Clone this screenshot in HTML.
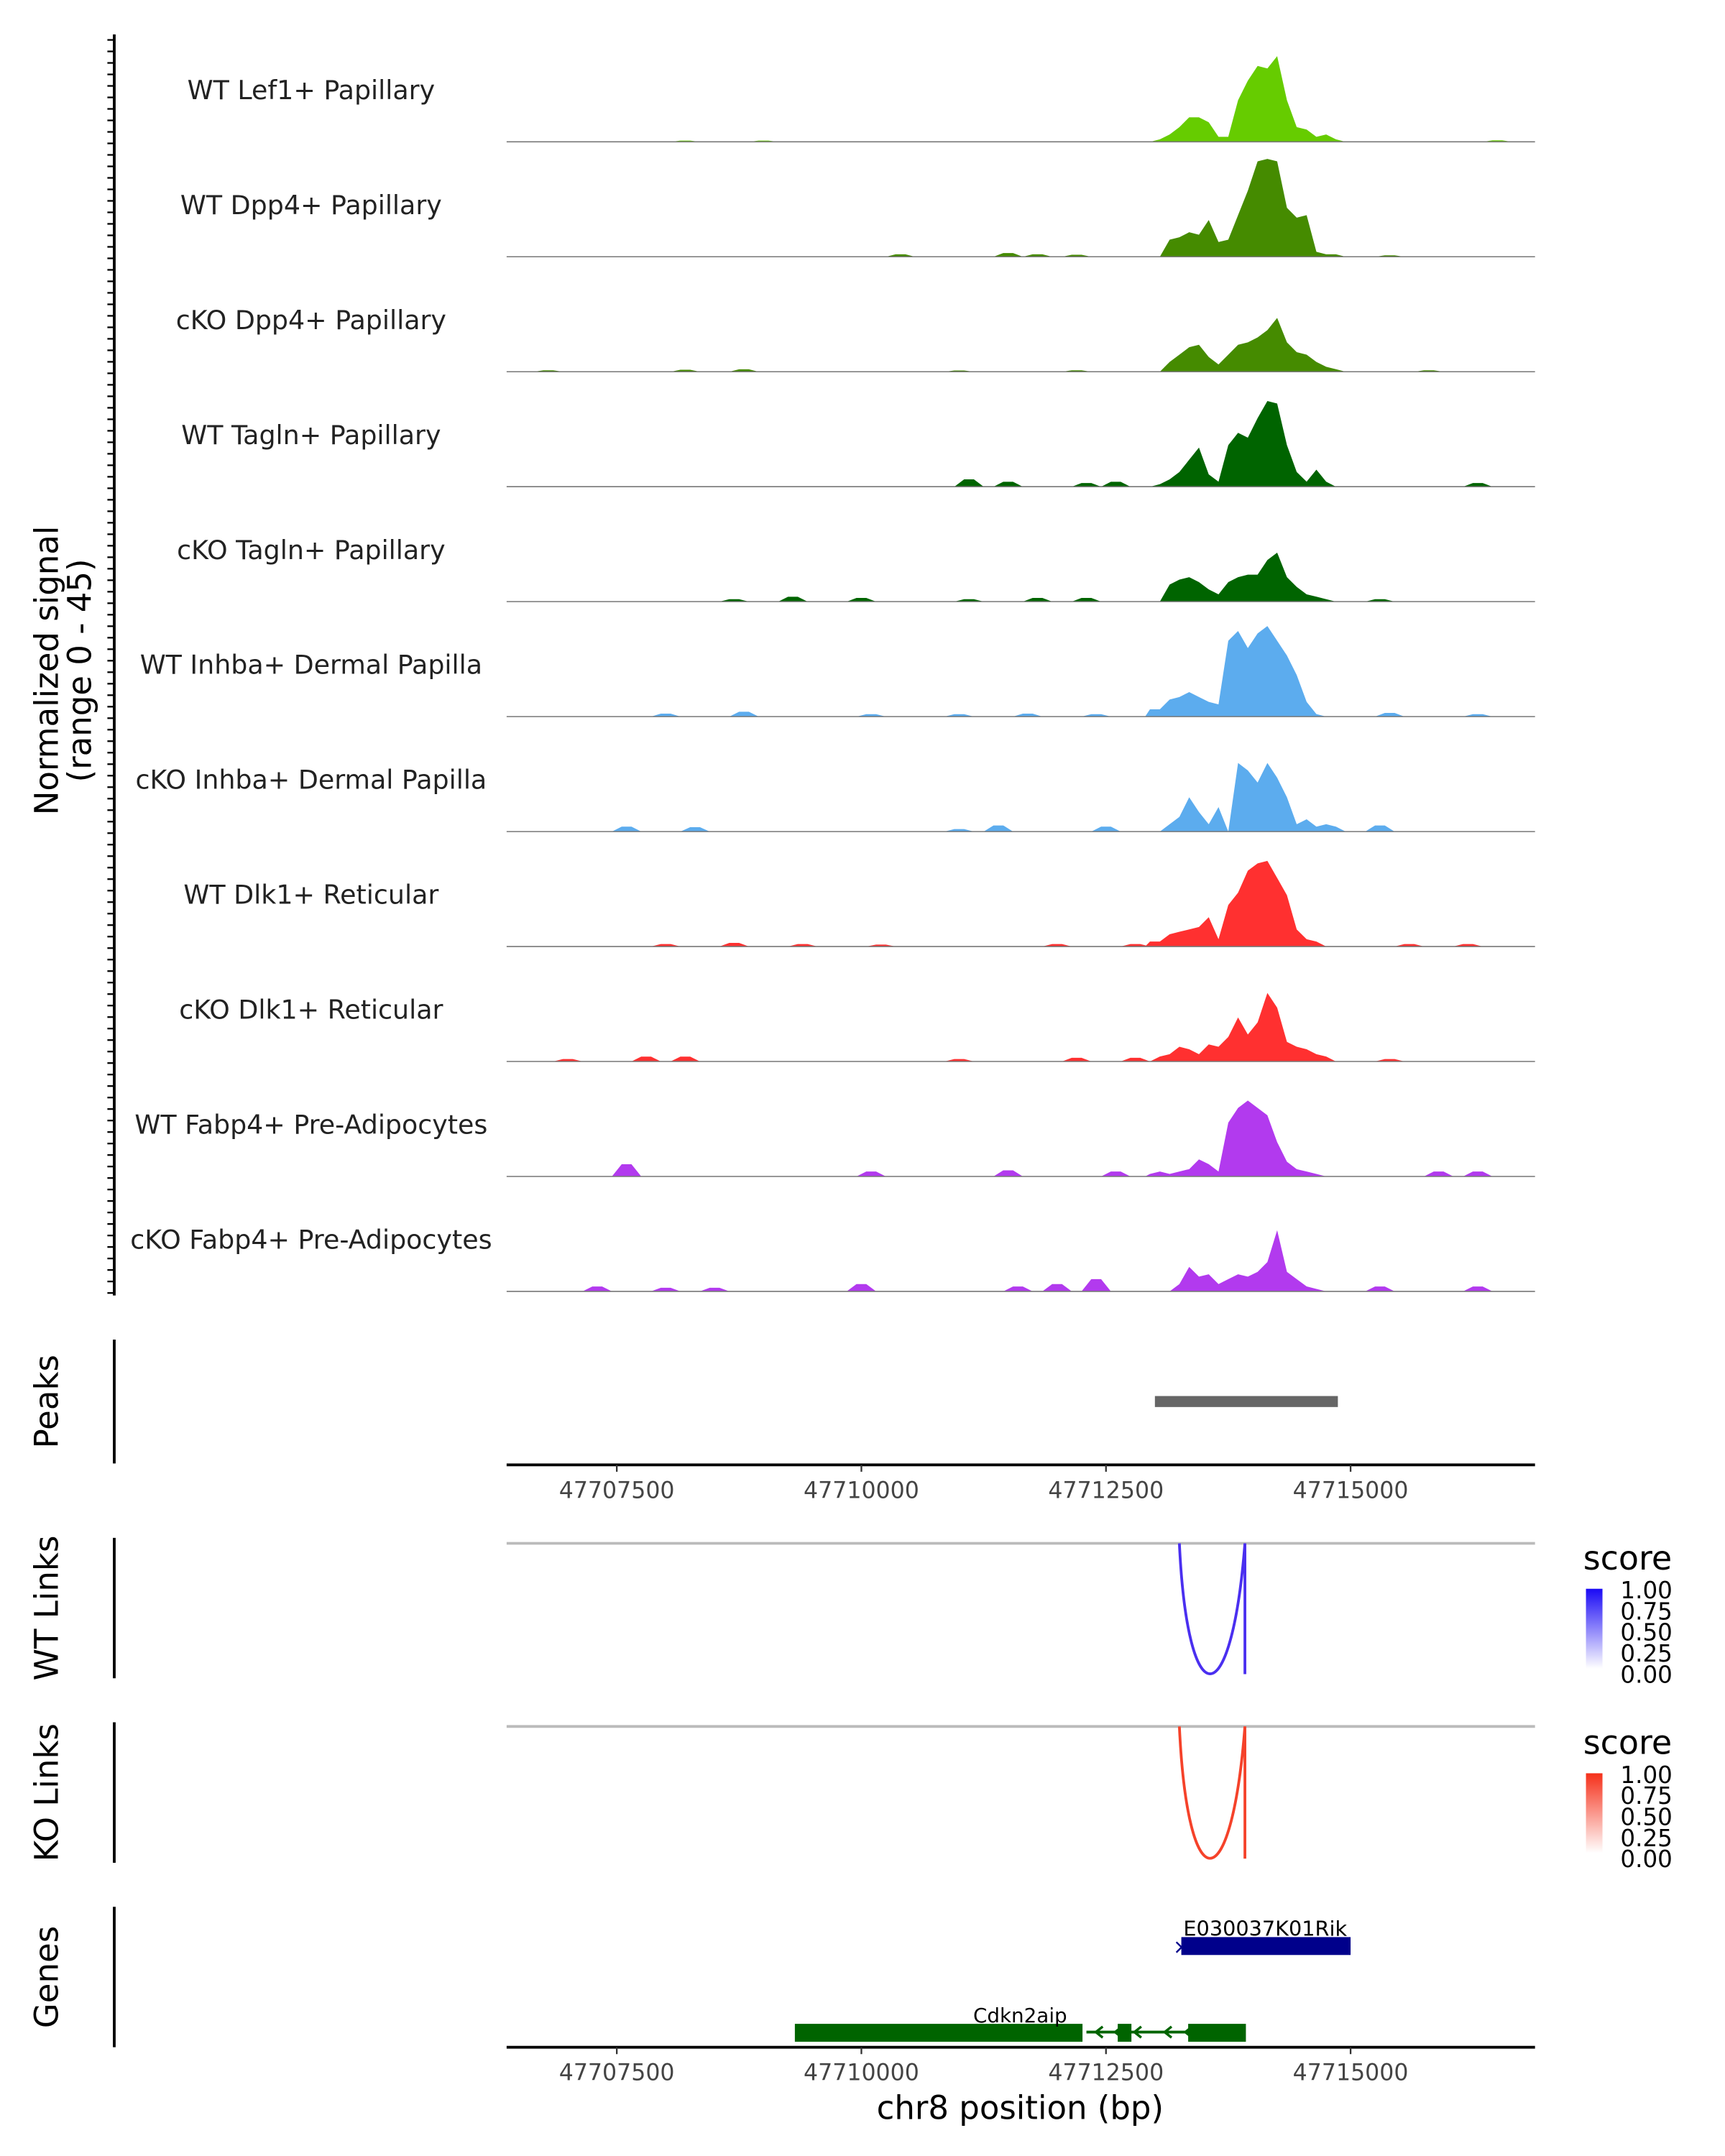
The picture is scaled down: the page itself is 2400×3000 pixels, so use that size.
<!DOCTYPE html>
<html><head><meta charset="utf-8"><style>
html,body{margin:0;padding:0;background:#fff;}
svg{display:block;font-family:"DejaVu Sans","Liberation Sans",sans-serif;}
</style></head><body>
<svg id="chart" width="2400" height="3000" viewBox="0 0 1253 1566" preserveAspectRatio="none" xmlns="http://www.w3.org/2000/svg">
<g id="tracks"></g>
<g id="static"></g>
</svg>
<script>
// ---- data ----
const trackNames = ["WT Lef1+ Papillary","WT Dpp4+ Papillary","cKO Dpp4+ Papillary","WT Tagln+ Papillary","cKO Tagln+ Papillary","WT Inhba+ Dermal Papilla","cKO Inhba+ Dermal Papilla","WT Dlk1+ Reticular","cKO Dlk1+ Reticular","WT Fabp4+ Pre-Adipocytes","cKO Fabp4+ Pre-Adipocytes"];
const trackColors = ["#66cc00","#458b00","#458b00","#006400","#006400","#5cacee","#5cacee","#ff3030","#ff3030","#b23aee","#b23aee"];
const binStart = 47712900, binSize = 100;
const sigLef1 = [0,1,3,6,10,10,8,2,2,17,25,31,30,35,17,6,5,2,3,1,0,0];
const sigWtDpp4 = [0,0,7,8,10,9,15,6,7,17,27,39,40,39,20,16,17,2,1,1,0,0];
const sigKoDpp4 = [0,0,4,7,10,11,6,3,7,11,12,14,17,22,12,8,7,4,2,1,0,0];
const sigWtTagln = [0,1,3,6,11,16,5,2,17,22,20,28,35,34,17,6,2,7,2,0,0,0];
const sigKoTagln = [0,0,7,9,10,8,5,3,8,10,11,11,17,20,10,6,3,2,1,0,0,0];
const sigWtInhba = [3,3,7,8,10,8,6,5,31,35,28,34,37,31,25,17,6,1,0,0,0,0];
const sigKoInhba = [0,0,3,6,14,8,3,10,0,28,25,20,28,22,14,3,5,2,3,2,0,0];
const sigWtDlk1 = [2,2,5,6,7,8,12,3,17,22,31,34,35,28,21,7,3,2,0,0,0,0];
const sigKoDlk1 = [0,2,3,6,5,3,7,6,10,18,11,16,28,22,8,6,5,3,2,0,0,0];
const sigWtFabp4 = [1,2,1,2,3,7,5,2,22,28,31,28,25,14,6,3,2,1,0,0,0,0];
const sigKoFabp4 = [0,0,0,3,10,6,7,3,5,7,6,8,12,25,8,5,2,1,0,0,0,0];
const signals = [sigLef1,sigWtDpp4,sigKoDpp4,sigWtTagln,sigKoTagln,sigWtInhba,sigKoInhba,sigWtDlk1,sigKoDlk1,sigWtFabp4,sigKoFabp4];
const blipsPos = [
 [47708200,47709000,47716500],
 [47710400,47711500,47711800,47712200,47715400],
 [47706800,47708200,47708800,47711000,47712200,47715800],
 [47711100,47711500,47712300,47712600,47716300],
 [47708700,47709300,47710000,47711100,47711800,47712300,47715300],
 [47708000,47708800,47710100,47711000,47711700,47712400,47715400,47716300],
 [47707600,47708300,47711000,47711400,47712500,47715300],
 [47708000,47708700,47709400,47710200,47712000,47712800,47715600,47716200],
 [47707000,47707800,47708200,47711000,47712200,47712800,47715400],
 [47707600,47710100,47711500,47712600,47715900,47716300],
 [47707300,47708000,47708500,47710000,47711600,47712000,47712400,47715300,47716300]];
const blipsVal = [
 [0.5,0.5,0.6],[1,1.5,1,0.8,0.6],[0.6,0.8,1,0.5,0.6,0.6],[3,2,1.5,2,1.5],[1,2,1.5,1,1.5,1.5,1],
 [1.2,2,1,1,1.2,1,1.5,1],[2,1.8,1,2.5,2,2.5],[1,1.5,1,0.8,1,1,1,1],[1,2,2,1,1.5,1.5,1],
 [5,2,2.5,2,2,2],[2,1.5,1.5,3,2,3,5,2,2]];
const yMax = 45;
const peakStarts = [47713000], peakEnds = [47714870];
const linkStart = [47713250], linkEnd = [47713920], wtScore = [0.8], koScore = [0.85];
const axisTicks = [47707500,47710000,47712500,47715000];
const legendTicks = ["1.00","0.75","0.50","0.25","0.00"];

// ---- scales ----
const X0 = 368, X1 = 1115, BP0 = 47706374, BP1 = 47716885;
const xs = bp => X0 + (bp - BP0) / (BP1 - BP0) * (X1 - X0);
const trackH = 80, base0 = 103, trackStep = 83.5;
const NS = "http://www.w3.org/2000/svg";
function mk(tag, attrs, parent, txt){const e=document.createElementNS(NS,tag);for(const k in attrs)e.setAttribute(k,attrs[k]);if(txt!==undefined)e.textContent=txt;parent.appendChild(e);return e;}

const tg = document.getElementById('tracks');
signals.forEach((sig, i) => {
  const base = base0 + i*trackStep;
  const ys = v => base - v / yMax * trackH;
  let d = `M${X0},${base}`;
  d += ` L${xs(binStart)},${base}`;
  sig.forEach((v,j)=>{ d += ` L${xs(binStart + j*binSize + binSize/2).toFixed(1)},${ys(v).toFixed(1)}`; });
  d += ` L${xs(binStart + sig.length*binSize)},${base} L${X1},${base} Z`;
  const area = mk('path',{d:d,fill:trackColors[i]},tg);
  
  
  blipsPos[i].forEach((p,k)=>{
    const v = blipsVal[i][k];
    const b = mk('path',{d:`M${xs(p-150)},${base} L${xs(p-50)},${ys(v)} L${xs(p+50)},${ys(v)} L${xs(p+150)},${base} Z`,fill:trackColors[i]},tg);
    
    
  });
  const bl = mk('line',{x1:X0,x2:X1,y1:base,y2:base,stroke:'#777','stroke-width':0.8},tg);
  
  
  const lab = mk('text',{x:226,y:base-31,'text-anchor':'middle','font-size':19,fill:'#222'},tg,trackNames[i]);
  
  
});

const sg = document.getElementById('static');
let ax = mk('line',{x1:83,x2:83,y1:25,y2:941,stroke:'#000','stroke-width':2},sg);
 
for(let y=29; y<=940; y+=8.35){ const t=mk('line',{x1:78,x2:83,y1:y,y2:y,stroke:'#000','stroke-width':1.2},sg);   }
function vlabel(txt, x, y, name, size){ const t=mk('text',{x:x,y:y,'text-anchor':'middle','font-size':size||23.5,transform:`rotate(-90 ${x} ${y})`},sg,txt);   }
vlabel('Normalized signal',42,487,'y-axis-title');
vlabel('(range 0 - 45)',66,487,'y-axis-range');
[[973,1063,'Peaks',1018],[1117,1219,'WT Links',1168],[1251,1353,'KO Links',1302],[1385,1487,'Genes',1436]].forEach(r=>{
  const l=mk('line',{x1:83,x2:83,y1:r[0],y2:r[1],stroke:'#000','stroke-width':2},sg);
   
  vlabel(r[2],42,r[3],'track-title');
});
peakStarts.forEach((s,i)=>{ const r=mk('rect',{x:xs(s),y:1014,width:xs(peakEnds[i])-xs(s),height:8,fill:'#666'},sg);   });
function xaxis(y, name){
  const l=mk('line',{x1:X0,x2:X1,y1:y,y2:y,stroke:'#000','stroke-width':2},sg);
   
  axisTicks.forEach(t=>{ const tk=mk('line',{x1:xs(t),x2:xs(t),y1:y,y2:y+5,stroke:'#333','stroke-width':1.2},sg);  
    const tx=mk('text',{x:xs(t),y:y+24,'text-anchor':'middle','font-size':16.5,fill:'#444'},sg,String(t));   });
}
xaxis(1064,'peaks-x-axis'); xaxis(1487,'genes-x-axis');
const xt=mk('text',{x:741,y:1539,'text-anchor':'middle','font-size':23.5},sg,'chr8 position (bp)');
 
function links(top, depth, score, color, name){
  const g=mk('line',{x1:X0,x2:X1,y1:top,y2:top,stroke:'#bbb','stroke-width':2},sg);
   
  linkStart.forEach((s,i)=>{
    const a=xs(s), b=xs(linkEnd[i]);
    const p=mk('path',{d:`M${a},${top} C${a+6},${top+depth*1.33} ${b-10},${top+depth*1.33} ${b},${top} L${b},${top+depth}`,fill:'none',stroke:color,'stroke-width':2},sg);
     
  });
}
links(1121,95,wtScore,'#4a2ff0','wt-link');
links(1254,96,koScore,'#f5422a','ko-link');
function legend(top, c1, id, name){
  const t=mk('text',{x:1150,y:top,'font-size':24},sg,'score');  
  const defs=mk('defs',{},sg); const lg=mk('linearGradient',{id:id,x1:0,y1:0,x2:0,y2:1},defs);
  mk('stop',{offset:0,'stop-color':c1},lg); mk('stop',{offset:1,'stop-color':'#fff'},lg);
  const r=mk('rect',{x:1152,y:top+14,width:12,height:58,fill:`url(#${id})`},sg);  
  legendTicks.forEach((s,i)=>{ const tx=mk('text',{x:1177,y:top+21+i*15.3,'font-size':17},sg,s);   });
}
legend(1140,'#1a0af5','gw','wt-legend'); legend(1274,'#f5301a','gk','ko-legend');
let r1=mk('rect',{x:xs(47713270),y:1407,width:xs(47715000)-xs(47713270),height:13,fill:'#00008b'},sg);  
let t1=mk('text',{x:852,y:1419,'font-size':15,fill:'#00008b'},sg,'×');  
let l1=mk('text',{x:919,y:1406,'text-anchor':'middle','font-size':15},sg,'E030037K01Rik');  
let ln=mk('line',{x1:xs(47712300),x2:xs(47713900),y1:1476,y2:1476,stroke:'#006400','stroke-width':2},sg);  
[[47709320,47712260],[47712620,47712760],[47713340,47713930]].forEach(e=>{ const r=mk('rect',{x:xs(e[0]),y:1470,width:xs(e[1])-xs(e[0]),height:13,fill:'#006400'},sg);   });
[796,810,824,846,861].forEach(x=>{ const a=mk('path',{d:`M${x+5},${1472} L${x},${1476} L${x+5},${1480}`,fill:'none',stroke:'#006400','stroke-width':1.8},sg);   });
let l2=mk('text',{x:741,y:1469,'text-anchor':'middle','font-size':14.5},sg,'Cdkn2aip');  
</script>
</body></html>
